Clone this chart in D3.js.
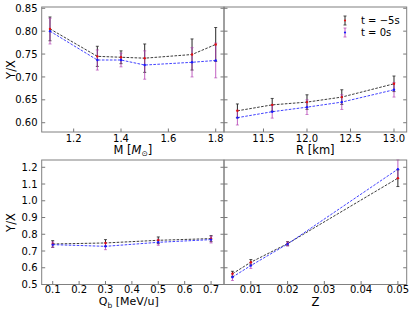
<!DOCTYPE html>
<html><head><meta charset="utf-8">
<script src="https://cdn.jsdelivr.net/npm/d3@7"></script>
<style>
html,body{margin:0;padding:0;background:#fff;}
svg{display:block;font-family:"DejaVu Sans",sans-serif;}
</style></head>
<body><svg id="c" width="415" height="312"></svg>
<script>
// ---- data ----
const mValues = [1.1, 1.3, 1.4, 1.5, 1.7, 1.8];
const mEarly = [0.805, 0.745, 0.743, 0.741, 0.749, 0.771];
const mEarlyErr = [0.026, 0.022, 0.014, 0.031, 0.034, 0.037];
const mLate = [0.800, 0.737, 0.737, 0.726, 0.732, 0.736];
const mLateErr = [0.028, 0.022, 0.015, 0.031, 0.032, 0.038];

const rValues = [11.2, 11.6, 12.0, 12.4, 13.0];
const rEarly = [0.626, 0.639, 0.645, 0.656, 0.685];
const rEarlyErr = [0.015, 0.014, 0.016, 0.016, 0.017];
const rLate = [0.611, 0.624, 0.634, 0.645, 0.672];
const rLateErr = [0.016, 0.014, 0.016, 0.016, 0.016];

const qValues = [0.1, 0.3, 0.5, 0.7];
const qEarly = [0.742, 0.748, 0.764, 0.774];
const qEarlyErr = [0.020, 0.020, 0.020, 0.018];
const qLate = [0.738, 0.728, 0.752, 0.768];
const qLateErr = [0.016, 0.020, 0.018, 0.020];

const zValues = [0.005, 0.01, 0.02, 0.05];
const zEarly = [0.564, 0.633, 0.744, 1.135];
const zEarlyErr = [0.015, 0.016, 0.012, 0.050];
const zLate = [0.544, 0.613, 0.742, 1.189];
const zLateErr = [0.020, 0.018, 0.012, 0.055];

const seriesNames = ["t = \u22125s", "t = 0s"];
const mTicks = [1.2, 1.4, 1.6, 1.8];
const rTicks = [11.5, 12.0, 12.5, 13.0];
const qTicks = [0.1, 0.2, 0.3, 0.4, 0.5, 0.6, 0.7];
const zTicks = [0.01, 0.02, 0.03, 0.04, 0.05];
const topYTicks = [0.60, 0.65, 0.70, 0.75, 0.80, 0.85];
const botYTicks = [0.5, 0.6, 0.7, 0.8, 0.9, 1.0, 1.1, 1.2];

// ---- layout ----
const svg = d3.select("#c");
const X0 = 41.7, XM = 224, X1 = 406.7;
const topRow = [7, 132], botRow = [160, 284.5];
const yTop = d3.scaleLinear().domain([0.5797, 0.8528]).range([topRow[1], topRow[0]]);
const yBot = d3.scaleLinear().domain([0.5, 1.2435]).range([botRow[1], botRow[0]]);

const panels = [
  {x: mValues, a: mEarly, ae: mEarlyErr, b: mLate, be: mLateErr, dom: [1.065, 1.835], xr: [X0, XM], y: yTop, row: topRow, xt: mTicks, xf: ".1f", yt: topYTicks, yf: ".2f", showY: true, label: "M", tdy: 9.6},
  {x: rValues, a: rEarly, ae: rEarlyErr, b: rLate, be: rLateErr, dom: [11.046, 13.146], xr: [XM, X1], y: yTop, row: topRow, xt: rTicks, xf: ".1f", yt: topYTicks, yf: ".2f", showY: false, label: "R", legend: true, tdy: 9.6},
  {x: qValues, a: qEarly, ae: qEarlyErr, b: qLate, be: qLateErr, dom: [0.0583, 0.749], xr: [X0, XM], y: yBot, row: botRow, xt: qTicks, xf: ".1f", yt: botYTicks, yf: ".1f", showY: true, label: "Q", tdy: 8.6},
  {x: zValues, a: zEarly, ae: zEarlyErr, b: zLate, be: zLateErr, dom: [0.0027, 0.0524], xr: [XM, X1], y: yBot, row: botRow, xt: zTicks, xf: ".2f", yt: botYTicks, yf: ".1f", showY: false, label: "Z", tdy: 8.6}
];

const spine = "#808080", tickC = "#555";
const blackC = "#262626", blueC = "#2b2bff", purpC = "#b33cb3";

panels.forEach(p => {
  const x = d3.scaleLinear().domain(p.dom).range(p.xr);
  const y = p.y;
  const g = svg.append("g");
  const [yb, yt] = [p.row[1], p.row[0]];
  // ticks (inward)
  p.xt.forEach(t => {
    g.append("line").attr("x1", x(t)).attr("x2", x(t)).attr("y1", yb).attr("y2", yb - 3.5)
      .attr("stroke", tickC).attr("stroke-width", 0.8);
    g.append("text").attr("x", x(t)).attr("y", yb + p.tdy).attr("text-anchor", "middle")
      .attr("font-size", 10).attr("fill", "#000").text(d3.format(p.xf)(t));
  });
  p.yt.forEach(t => {
    [p.xr[0], p.xr[1]].forEach((xx, i) => {
      g.append("line").attr("x1", xx).attr("x2", i === 0 ? xx + 3.5 : xx - 3.5).attr("y1", y(t)).attr("y2", y(t))
        .attr("stroke", tickC).attr("stroke-width", 0.8);
    });
    if (p.showY) {
      g.append("text").attr("x", 37.5).attr("y", y(t)).attr("dy", "0.36em").attr("text-anchor", "end")
        .attr("font-size", 10).attr("fill", "#000").text(d3.format(p.yf)(t));
    }
  });
  // series
  const series = [
    {v: p.a, e: p.ae, line: blackC, err: blackC, mark: "#e01010", op: 1},
    {v: p.b, e: p.be, line: blueC, err: purpC, mark: "#1a1aff", op: 0.8}
  ];
  const lineGen = d3.line().x(d => x(d[0])).y(d => y(d[1]));
  series.forEach(s => {
    g.append("path").datum(p.x.map((xv, i) => [xv, s.v[i]])).attr("d", lineGen)
      .attr("fill", "none").attr("stroke", s.line).attr("stroke-width", 0.9).attr("stroke-dasharray", "2.6,1.4");
  });
  series.forEach(s => {
    p.x.forEach((xv, i) => {
      const cx = x(xv), y1 = y(s.v[i] + s.e[i]), y2 = y(s.v[i] - s.e[i]);
      g.append("line").attr("x1", cx).attr("x2", cx).attr("y1", y1).attr("y2", y2)
        .attr("stroke", s.err).attr("stroke-width", 1).attr("opacity", s.op);
      [y1, y2].forEach(cy => g.append("line").attr("x1", cx - 1.5).attr("x2", cx + 1.5).attr("y1", cy).attr("y2", cy)
        .attr("stroke", s.err).attr("stroke-width", 0.8).attr("opacity", s.op));
    });
  });
  series.forEach(s => {
    p.x.forEach((xv, i) => {
      g.append("circle").attr("cx", x(xv)).attr("cy", y(s.v[i])).attr("r", 1.2).attr("fill", s.mark);
    });
  });
  // frame
  g.append("rect").attr("x", p.xr[0]).attr("y", yt).attr("width", p.xr[1] - p.xr[0]).attr("height", yb - yt)
    .attr("fill", "none").attr("stroke", spine).attr("stroke-width", 1);

  // axis labels
  const cx = (p.xr[0] + p.xr[1]) / 2;
  const lab = g.append("text").attr("text-anchor", "middle").attr("font-size", 11.5).attr("fill", "#000");
  if (p.label === "M") {
    lab.attr("x", cx).attr("y", yb + 21.5);
    lab.append("tspan").text("M [");
    lab.append("tspan").attr("font-style", "italic").text("M");
    lab.append("tspan").attr("font-size", 7.5).attr("dy", 2.5).text("\u2299");
    lab.append("tspan").attr("dy", -2.5).text("]");
  } else if (p.label === "R") {
    lab.attr("x", cx).attr("y", yb + 21.5).text("R [km]");
  } else if (p.label === "Q") {
    lab.attr("x", cx - 4).attr("y", yb + 20.8).attr("font-size", 11);
    lab.append("tspan").text("Q");
    lab.append("tspan").attr("font-size", 7.5).attr("dy", 2.3).text("b");
    lab.append("tspan").attr("dy", -2.3).text(" [MeV/u]");
  } else {
    lab.attr("x", cx).attr("y", yb + 21.5).text("Z");
  }

  if (p.legend) {
    const lx = 345;
    [{c: blackC, m: "#e01010", t: seriesNames[0], cy: 20.5, op: 1}, {c: purpC, m: "#1a1aff", t: seriesNames[1], cy: 32.5, op: 0.85}].forEach(L => {
      g.append("line").attr("x1", lx).attr("x2", lx).attr("y1", L.cy - 4.5).attr("y2", L.cy + 4.5).attr("stroke", L.c).attr("stroke-width", 1).attr("opacity", L.op);
      [L.cy - 4.5, L.cy + 4.5].forEach(yy => g.append("line").attr("x1", lx - 1.5).attr("x2", lx + 1.5).attr("y1", yy).attr("y2", yy).attr("stroke", L.c).attr("stroke-width", 0.8).attr("opacity", L.op));
      g.append("circle").attr("cx", lx).attr("cy", L.cy).attr("r", 1.1).attr("fill", L.m);
      g.append("text").attr("x", 361).attr("y", L.cy).attr("dy", "0.36em").attr("font-size", 10).attr("fill", "#000").text(L.t);
    });
  }
});

// shared Y labels
[[69.5], [222.5]].forEach(([cy]) => {
  svg.append("text").attr("transform", `translate(11,${cy}) rotate(-90)`).attr("text-anchor", "middle")
    .attr("dy", "0.35em").attr("font-size", 11.5).attr("fill", "#000").text("Y/X");
});
</script></body></html>
